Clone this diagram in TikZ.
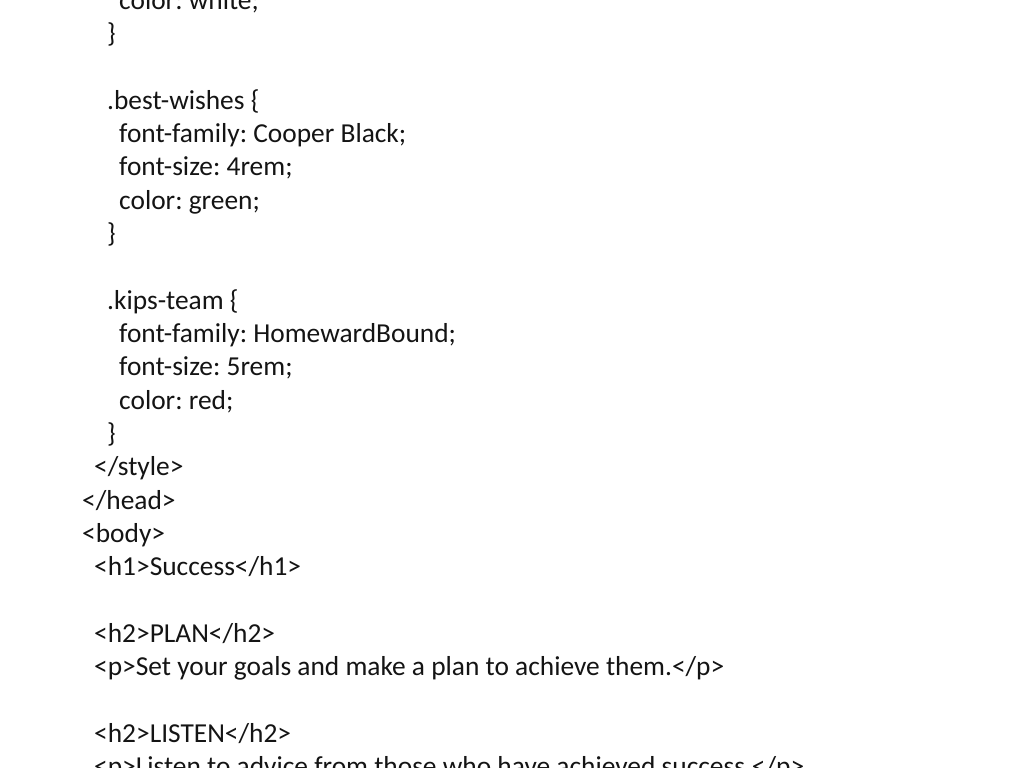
\documentclass[tikz,border=0pt]{standalone}
\usepackage{fontspec}
\setmainfont{Carlito}
\usepackage{tikz}

\begin{document}
\begin{tikzpicture}[x=1bp,y=1bp]
\tikzstyle{every node}=[font=\fontsize{27.5}{33.3}\selectfont\frenchspacing, text=black!92, inner sep=0pt, anchor=base west]
\useasboundingbox (0,0) rectangle (1024,768);
\clip (0,0) rectangle (1024,768);
\fill[white] (0,0) rectangle (1024,768);

% tail of the previous rule
\node (white) at (119,768-9.3) {color: white;};
\node (close1) at (107,768-42.6) {\}};

% .best-wishes
\node (bw) at (107,768-109.3) {.best-wishes \{};
\node (bwfam) at (119,768-142.6) {font-family: Cooper Black;};
\node (bwsize) at (119,768-176) {font-size: 4rem;};
\node (bwcol) at (119,768-209.3) {color: green;};
\node (close2) at (107,768-242.6) {\}};

% .kips-team
\node (kt) at (107,768-309.3) {.kips-team \{};
\node (ktfam) at (119,768-342.6) {font-family: HomewardBound;};
\node (ktsize) at (119,768-376) {font-size: 5rem;};
\node (ktcol) at (119,768-409.3) {color: red;};
\node (close3) at (107,768-442.6) {\}};

\node (style) at (94,768-476) {</style>};
\node (head) at (82,768-509.3) {</head>};
\node (body) at (82,768-542.6) {<body>};
\node (hone) at (94,768-576) {<h1>Success</h1>};

\node (plan) at (94,768-642.6) {<h2>PLAN</h2>};
\node (pplan) at (94,768-676) {<p>Set your goals and make a plan to achieve them.</p>};

\node (listen) at (94,768-742.6) {<h2>LISTEN</h2>};
\node (plisten) at (94,768-776) {<p>Listen to advice from those who have achieved success.</p>};
\end{tikzpicture}
\end{document}
